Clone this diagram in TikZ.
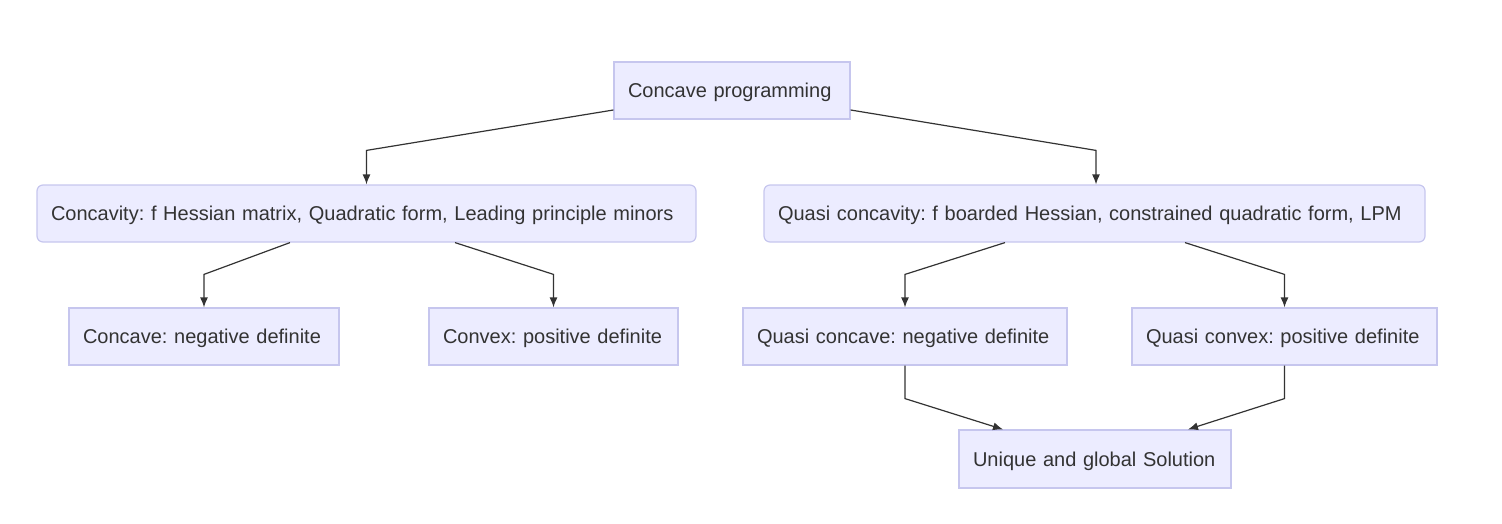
\documentclass[tikz,border=0pt]{standalone}
\usepackage{fontspec}
\setmainfont{Liberation Sans}
\usepackage{tikz}
\usetikzlibrary{calc,arrows.meta}
\frenchspacing
\definecolor{boxfill}{HTML}{ECECFF}
\definecolor{boxline}{HTML}{C6C6EE}
\definecolor{text}{HTML}{333333}
\definecolor{link}{HTML}{333333}
\tikzset{
  box/.style={draw=boxline, fill=boxfill, line width=1.2pt, text=text,
    font=\fontsize{20}{24}\selectfont, minimum height=57pt, inner xsep=14pt,
    inner ysep=0pt, text height=15pt, text depth=1pt, align=left},
  roundbox/.style={box, rounded corners=6pt},
  arr/.style={-{Latex[length=10pt,width=8pt]}, draw=link, line width=1.2pt},
}
\begin{document}
\begin{tikzpicture}[x=1pt, y=-1pt]
\useasboundingbox (0,0) rectangle (1502,524);
% boxes
\node[box, text width=208pt] (prog) at (732,90.5) {Concave programming};
\node[roundbox, text width=631pt] (cav) at (366.5,213.5) {Concavity: f Hessian matrix, Quadratic form, Leading principle minors};
\node[roundbox, text width=633pt] (qcav) at (1094.5,213.5) {Quasi concavity: f boarded Hessian, constrained quadratic form, LPM};
\node[box, text width=242pt] (ccave) at (204,336.5) {Concave: negative definite};
\node[box, text width=221pt] (cvex) at (553.5,336.5) {Convex: positive definite};
\node[box, text width=296pt] (qccave) at (905,336.5) {Quasi concave: negative definite};
\node[box, text width=277pt] (qcvex) at (1284.5,336.5) {Quasi convex: positive definite};
\node[box, text width=244pt, minimum height=58pt] (sol) at (1095,459) {Unique and global Solution};
% links
\draw[arr] ([yshift=-19.5pt]prog.west) -- ([yshift=34pt]cav.north) -- (cav.north);
\draw[arr] ([yshift=-19.5pt]prog.east) -- ([xshift=1.5pt,yshift=34pt]qcav.north) -- ([xshift=1.5pt]qcav.north);
\draw[arr] ([xshift=-76.5pt]cav.south) -- ([yshift=33pt]ccave.north) -- (ccave.north);
\draw[arr] ([xshift=88.5pt]cav.south) -- ([yshift=33pt]cvex.north) -- (cvex.north);
\draw[arr] ([xshift=-89.5pt]qcav.south) -- ([yshift=33pt]qccave.north) -- (qccave.north);
\draw[arr] ([xshift=90.5pt]qcav.south) -- ([yshift=33pt]qcvex.north) -- (qcvex.north);
\draw[arr] (qccave.south) -- ([yshift=-33pt]qccave.south) -- ([xshift=-92pt]sol.north);
\draw[arr] (qcvex.south) -- ([yshift=-33pt]qcvex.south) -- ([xshift=93pt]sol.north);
\end{tikzpicture}
\end{document}
